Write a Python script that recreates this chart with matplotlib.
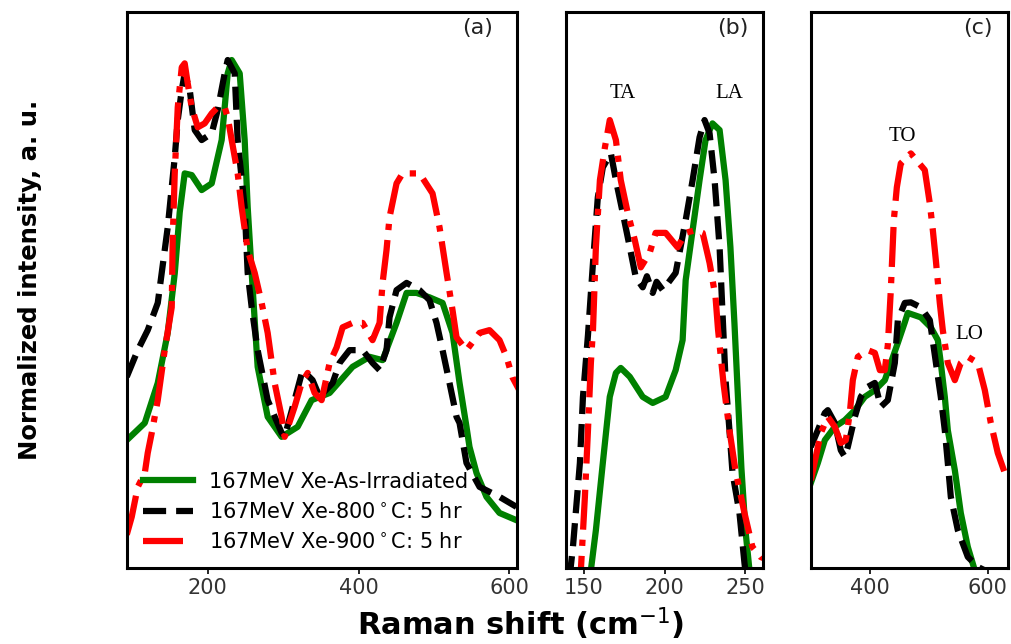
import matplotlib
matplotlib.use('Agg')
import matplotlib.pyplot as plt

# ---- panel (a): full range ----
a_x_green = [92.7, 116.6, 133.8, 147, 156.3, 162.9, 169.5, 178.8, 192, 205.3, 218.5, 222.5, 226.5, 231.8,
             242.4, 249, 253, 258.3, 266.2, 279.5, 298, 319.2, 337.7, 361.6, 392, 414.6, 431.8, 450.3,
             463.6, 476.8, 494, 511.3, 524.5, 533.8, 543, 547, 556.3, 569.5, 586.8, 609.3]
a_green = [0.230, 0.261, 0.333, 0.423, 0.530, 0.640, 0.710, 0.707, 0.680, 0.692, 0.770, 0.829, 0.890, 0.914,
           0.890, 0.770, 0.649, 0.531, 0.362, 0.272, 0.236, 0.254, 0.302, 0.315, 0.362, 0.380, 0.374, 0.441,
           0.495, 0.495, 0.487, 0.477, 0.423, 0.333, 0.254, 0.218, 0.171, 0.128, 0.099, 0.086]

a_x_black = [92.7, 107.3, 120.5, 133.8, 147, 156.3, 160.3, 165.6, 169.5, 176.2, 182.8, 192, 205.3, 213.2,
             222.5, 226.5, 235.8, 239.7, 249, 253, 258.3, 266.2, 279.5, 298, 302, 325.8, 339, 348.3, 365.6,
             374.8, 388, 405.3, 418.5, 427.8, 437, 441, 450.3, 463.6, 480.8, 494, 503.3, 511.3, 520.5,
             529.8, 533.8, 543, 560.3, 586.8, 609.3]
a_black = [0.344, 0.392, 0.428, 0.477, 0.613, 0.739, 0.806, 0.860, 0.890, 0.860, 0.788, 0.770, 0.782, 0.824,
           0.890, 0.914, 0.890, 0.770, 0.649, 0.531, 0.469, 0.392, 0.302, 0.243, 0.236, 0.356, 0.338, 0.308, 0.333,
           0.369, 0.392, 0.392, 0.369, 0.356, 0.392, 0.451, 0.500, 0.513, 0.500, 0.482, 0.441, 0.392, 0.333,
           0.272, 0.261, 0.189, 0.146, 0.128, 0.110]

a_x_red = [92.7, 99.3, 107.3, 116.6, 120.5, 125.8, 133.8, 143, 152.3, 153.6, 156.3, 160.3, 165.6, 169.5,
           173.5, 178.8, 186.8, 196, 205.3, 213.2, 222.5, 226.5, 231.8, 239.7, 245, 253, 262.3, 271.5,
           279.5, 288.7, 298, 302, 315.2, 324.5, 332.5, 341.7, 351, 361.6, 370.9, 378.8, 392, 405.3,
           418.5, 427.8, 431.8, 437, 441, 450.3, 458.3, 480.8, 498, 507.3, 516.6, 524.5, 529.8, 543,
           560.3, 573.5, 586.8, 596, 604, 613]
a_red = [0.06, 0.092, 0.146, 0.171, 0.207, 0.243, 0.302, 0.392, 0.469, 0.590, 0.710, 0.829, 0.901, 0.908,
         0.872, 0.829, 0.793, 0.800, 0.818, 0.829, 0.829, 0.811, 0.770, 0.710, 0.649, 0.572, 0.531, 0.477,
         0.423, 0.333, 0.272, 0.236, 0.290, 0.333, 0.351, 0.315, 0.302, 0.369, 0.397, 0.433, 0.441, 0.441,
         0.410, 0.441, 0.513, 0.572, 0.631, 0.692, 0.710, 0.710, 0.674, 0.613, 0.531, 0.464, 0.415, 0.392,
         0.423, 0.428, 0.410, 0.380, 0.343, 0.320]

# ---- panel (b): acoustic region ----
b_x_green = [152, 154.3, 157.4, 161.7, 166, 169.8, 172.8, 178.4, 186.4, 192.6, 200.6, 206.8, 211.1, 213,
             217.3, 221.6, 225.3, 229.6, 234, 237.7, 240.7, 243.2, 245.5, 247.5, 250, 252.5, 254]
b_green = [-0.05, -0.004, 0.068, 0.189, 0.308, 0.351, 0.360, 0.344, 0.308, 0.297, 0.308, 0.356, 0.410, 0.518,
           0.608, 0.698, 0.770, 0.800, 0.788, 0.698, 0.577, 0.440, 0.300, 0.180, 0.068, -0.004, -0.05]

b_x_black = [141, 143.2, 147.5, 149.4, 152.5, 155.6, 158.6, 161.7, 166.7, 169.8, 174.1, 178.4, 182.1, 186.4,
             189, 192.6, 195, 198.8, 206.8, 213, 217.3, 221.6, 224.7, 227.8, 230.9, 234, 235.8, 237.7,
             240.1, 242, 246.3, 249.4, 251]
b_black = [-0.02, 0.038, 0.189, 0.308, 0.419, 0.549, 0.667, 0.721, 0.746, 0.698, 0.638, 0.577, 0.523, 0.505,
           0.525, 0.495, 0.515, 0.500, 0.531, 0.626, 0.698, 0.775, 0.806, 0.782, 0.698, 0.577, 0.459, 0.338,
           0.248, 0.171, 0.099, 0.009, -0.03]

b_x_red = [147, 148.1, 150.6, 152.5, 154.3, 155.6, 157.4, 159.9, 163, 166, 169.8, 172.8, 177.2, 181.5, 185.2,
           190.7, 194.4, 200.6, 208, 213, 219.1, 223.5, 227.8, 231.5, 233, 236.5, 240.1, 243.8, 249.4,
           254.3, 259.3, 261]
b_red = [-0.05, -0.004, 0.128, 0.248, 0.369, 0.428, 0.577, 0.698, 0.757, 0.806, 0.770, 0.698, 0.638, 0.590,
         0.541, 0.567, 0.603, 0.603, 0.577, 0.603, 0.608, 0.603, 0.549, 0.487, 0.430, 0.330, 0.248, 0.176,
         0.099, 0.038, 0.020, 0.018]

# ---- panel (c): optical region ----
c_x_green = [300, 311.9, 323.7, 340.7, 357.6, 374.6, 391.5, 408.5, 425.4, 435.6, 447.5, 459.3, 464.4, 486.4,
             503.4, 515.3, 520.3, 527.1, 532.2, 544.1, 554.2, 566.1, 577.9, 595]
c_green = [0.153, 0.189, 0.230, 0.254, 0.266, 0.284, 0.308, 0.320, 0.338, 0.369, 0.405, 0.442, 0.459, 0.451,
           0.433, 0.410, 0.369, 0.308, 0.248, 0.176, 0.099, 0.038, -0.004, -0.02]

c_x_black = [300, 311.9, 323.7, 328.8, 340.7, 350.8, 357.6, 362.7, 374.6, 384.7, 396.6, 408.5, 418.6, 430.5,
             442.4, 447.5, 459.3, 469.5, 486.4, 501.7, 510.2, 520.3, 527.1, 532.2, 537.3, 549.2, 566.1,
             583.1, 600, 634]
c_black = [0.218, 0.248, 0.279, 0.284, 0.261, 0.212, 0.200, 0.218, 0.272, 0.308, 0.326, 0.333, 0.290, 0.302,
           0.369, 0.446, 0.477, 0.478, 0.469, 0.446, 0.383, 0.308, 0.248, 0.189, 0.128, 0.068, 0.020,
           0.002, -0.007, -0.03]

c_x_red = [300, 317, 328.8, 340.7, 350.8, 359.3, 366.1, 371.2, 379.7, 396.6, 408.5, 417, 425.4, 430.5, 435.6,
           440.7, 445.8, 452.5, 469.5, 493.2, 501.7, 506.8, 511.9, 518.6, 523.7, 532.2, 544.1, 554.2,
           566.1, 583.1, 594.9, 605.1, 616.9, 628.8, 634]
c_red = [0.158, 0.243, 0.272, 0.254, 0.225, 0.230, 0.279, 0.338, 0.380, 0.392, 0.387, 0.356, 0.356, 0.401,
         0.500, 0.626, 0.685, 0.728, 0.746, 0.716, 0.656, 0.608, 0.554, 0.477, 0.428, 0.369, 0.338, 0.369,
         0.380, 0.369, 0.320, 0.261, 0.207, 0.171, 0.162]

labels = ['167MeV Xe-As-Irradiated', '167MeV Xe-800$^\\circ$C: 5 hr', '167MeV Xe-900$^\\circ$C: 5 hr']
colors = ['green', 'black', 'red']
styles = ['-', '--', '-.']

fig = plt.figure(figsize=(10.11, 6.44), dpi=100)
ax1 = fig.add_axes([0.1256, 0.118, 0.3858, 0.863])
ax2 = fig.add_axes([0.560, 0.118, 0.1949, 0.863])
ax3 = fig.add_axes([0.802, 0.118, 0.1949, 0.863])

panels = [
    (ax1, [(a_x_green, a_green), (a_x_black, a_black), (a_x_red, a_red)], (93, 610), [200, 400, 600], '(a)', 0.90),
    (ax2, [(b_x_green, b_green), (b_x_black, b_black), (b_x_red, b_red)], (139, 261), [150, 200, 250], '(b)', 0.848),
    (ax3, [(c_x_green, c_green), (c_x_black, c_black), (c_x_red, c_red)], (300, 634), [400, 600], '(c)', 0.848),
]

for ax, curves, xl, ticks, tag, tx in panels:
    for (xs, ys), col, ls, lab in zip(curves, colors, styles, labels):
        ax.plot(xs, ys, color=col, linestyle=ls, linewidth=4.5, label=lab,
                solid_joinstyle='round', dash_joinstyle='round')
    ax.set_xlim(*xl)
    ax.set_ylim(0, 1)
    ax.set_xticks(ticks)
    ax.set_yticks([])
    ax.tick_params(axis='x', labelsize=15, labelcolor='#333333', length=4, width=1.2)
    for s in ax.spines.values():
        s.set_linewidth(2.2)
    ax.text(tx, 0.971, tag, transform=ax.transAxes, ha='center', va='center',
            fontsize=16, color='#222222')

ax1.legend(loc='lower left', frameon=False, fontsize=15, handlelength=2.4,
           handletextpad=0.8, labelspacing=0.5, borderaxespad=0.35)

serif = 'Liberation Serif'
ax2.text(174, 0.854, 'TA', ha='center', va='center', fontsize=15, family=serif)
ax2.text(240, 0.854, 'LA', ha='center', va='center', fontsize=15, family=serif)
ax3.text(456, 0.777, 'TO', ha='center', va='center', fontsize=15, family=serif)
ax3.text(568, 0.421, 'LO', ha='center', va='center', fontsize=15, family=serif)

fig.text(521 / 1011, 1 - 624 / 644, 'Raman shift (cm$^{-1}$)', ha='center', va='center',
         fontsize=22, fontweight='bold')
fig.text(30 / 1011, 1 - 280 / 644, 'Normalized intensity, a. u.', ha='center', va='center',
         rotation=90, fontsize=17.5, fontweight='bold')

fig.savefig('out.png', dpi=100)
